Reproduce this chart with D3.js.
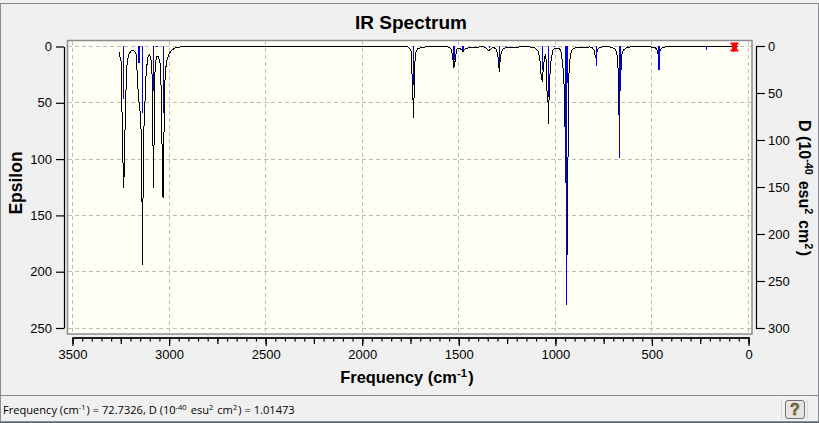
<!DOCTYPE html>
<html><head><meta charset="utf-8">
<script src="https://cdn.jsdelivr.net/npm/d3@7/dist/d3.min.js"></script>
<style>html,body{margin:0;padding:0;background:#f0f0f0;overflow:hidden}svg{display:block}text{font-family:"Liberation Sans",Arial,sans-serif;fill:#000}</style>
</head><body><svg id="c" width="819" height="423"></svg>
<script>
const curveFreq=[3259,3254,3249,3246,3242,3240,3237,3235.5,3232,3230,3224.6,3223,3220,3218,3213,3208,3197,3187,3177,3169,3166,3161,3157,3153,3150,3145,3142,3140,3138.5,3136.5,3133,3129,3124,3119,3113,3108,3100,3093,3088,3085,3082.5,3079,3078,3076,3073,3068,3063,3055,3047,3042,3039,3036,3033,3030,3027,3024,3021,3016,3011,3001,2985,2970,2944,2892,2400,1900,1763,1753,1747,1745,1742,1741,1737,1735.5,1733,1730,1728,1726,1722,1714,1701,1675,1623,1556,1545,1538,1533,1527,1525,1522,1517,1512,1504,1494,1483,1478,1473,1463,1442,1390,1369,1359,1349,1344,1338,1328,1318,1307,1302,1297,1293,1290,1288,1284,1279,1271,1261,1245,1183,1131,1105,1095,1087,1080,1074,1072,1068,1064,1059,1054,1051,1048,1044,1042,1038,1037,1034,1030,1028,1023,1017,1012,1002,985,972,966,959,955,952,947.5,943,941,940,938,937,935,932,928,923,915,898,857,821,810,800,795,791,788,784,779,769,753,717,691,683,679,674,672.6,670.5,667,665,662,659,655,647,634,614,510,484,476,471,467,463,461,456,448,432,406,54];
const curveEps=[4.9,9.3,12,25,81,96,111,125.6,111,81,62.6,38.6,25,16.4,10.2,6.7,4,3.6,4.4,7.5,21,37,47.5,52,58,74,130,139,194,139,130,58,47.5,25,13.8,8.4,7.5,12,25,85,89,125.6,89,47.5,23.5,12,8.4,9.3,14.7,30,83,87.5,132,134.5,87.5,47.5,30,18,12,6.7,3.1,1.3,0.4,0.2,0.2,0.2,0.4,1.8,4,12,25,43,47.5,63,47.5,43,21,10,5,2.2,1.2,0.4,0.3,0.4,1.3,3.1,7.5,16.4,18.8,16.4,10.2,3.1,1.3,1.8,3.1,4.9,3.1,1.8,0.9,0.4,0.4,1.3,3.1,4,2.7,1.3,0.9,2.2,4.9,9.3,16.4,22.4,16.4,9.3,4.9,2.2,1.3,0.9,0.4,0.4,1.3,3.1,4.9,12,25,26,31.3,22.6,13.8,8.4,7.5,12,34,47.5,49.3,68.2,49.3,43,25,13.8,7.5,3.1,1.6,1.3,3.1,10.2,20.9,34,39.5,111,121,179,187,179,121,111,39.5,16.4,9.3,3.1,1.3,0.9,0.4,0.9,3.1,7.5,10.2,9.3,4.9,2.2,0.9,0.2,0.4,2.2,4.9,9.3,23.5,49.3,60.8,49.3,38.6,36.9,12,6.7,3.1,1.3,0.4,0.3,0.9,2.2,4.9,7.5,7.5,5.8,3.1,1.3,0.4,0.1,0.1];
const stickFreq=[3237,3156,3139,3082,3063,3028,1735.5,1525,1478,1340,1290,1252,1068,1037,1005,945,943,937,788,668,662,628,463,218,79];
const stickD=[56,18,71,48,1,71,41.5,15,4,2,18,2,25,54,1,146,275.5,39,21,119,47,1,26,4,6];
const markerFreq=72.7326, markerD=1.01473;
const freqTicks=[3500,3000,2500,2000,1500,1000,500,0];
const epsTicks=[0,50,100,150,200,250];
const dTicks=[0,50,100,150,200,250,300];

const svg=d3.select("#c");
const x=d3.scaleLinear().domain([3500,0]).range([72.5,748.5]);
const yE=d3.scaleLinear().domain([0,250]).range([46.5,328]);
const yD=d3.scaleLinear().domain([0,300]).range([46,328]);

// window chrome
svg.append("rect").attr("x",0.5).attr("y",3.5).attr("width",818).attr("height",418).attr("fill","#f0f0f0").attr("stroke","#8a8c90");
svg.append("line").attr("x1",0).attr("x2",819).attr("y1",395.5).attr("y2",395.5).attr("stroke","#8a8c90");
svg.append("line").attr("x1",0).attr("x2",819).attr("y1",422.5).attr("y2",422.5).attr("stroke","#5c6470");

// plot area
svg.append("rect").attr("x",67.5).attr("y",40.5).attr("width",684.5).attr("height",293.5)
  .attr("fill","#fffff6").attr("stroke","#8a8c90").attr("stroke-width",1.5);
const grid=svg.append("g").attr("stroke","#bdbdb8").attr("stroke-dasharray","4,3").attr("shape-rendering","crispEdges");
grid.selectAll(".v").data(freqTicks).join("line").attr("x1",d=>x(d)).attr("x2",d=>x(d)).attr("y1",41).attr("y2",333);
grid.selectAll(".h").data(epsTicks).join("line").attr("y1",d=>yE(d)).attr("y2",d=>yE(d)).attr("x1",68).attr("x2",751);

// spectrum
const pts=curveFreq.map((f,i)=>[f,curveEps[i]]);
svg.append("path").attr("d",d3.line().x(d=>x(d[0])).y(d=>yE(d[1]))(pts))
  .attr("fill","none").attr("stroke","#000").attr("stroke-width",1).attr("stroke-linejoin","round").attr("shape-rendering","crispEdges");
svg.append("g").attr("shape-rendering","crispEdges").selectAll("line").data(stickFreq).join("line")
  .attr("x1",d=>x(d)).attr("x2",d=>x(d)).attr("y1",yD(0)).attr("y2",(d,i)=>yD(stickD[i]))
  .attr("stroke","#0000ee").attr("stroke-width",1.4);

// marker
svg.append("path").attr("transform",`translate(${x(markerFreq)},${yD(markerD)})`)
  .attr("d","M-4,-4.5H4V-2.5H2.5V2.5H4V4.5H-4V2.5H-2.5V-2.5H-4Z").attr("fill","#ff0000");

// axes
const axisStyle=g=>{g.selectAll("path,line").attr("stroke","#000").attr("stroke-width",1.2);g.selectAll("text").attr("font-size",13).attr("fill","#000").attr("font-family","Liberation Sans");};
const minor=d3.range(0,3501,50);
svg.append("g").attr("transform","translate(0,337.5)")
  .call(d3.axisBottom(x).tickValues(minor).tickSize(4).tickSizeOuter(0).tickFormat(""))
  .call(axisStyle);
svg.append("g").attr("transform","translate(0,337.5)")
  .call(d3.axisBottom(x).tickValues(d3.range(0,3501,250)).tickSize(6.5).tickSizeOuter(0).tickFormat(""))
  .call(axisStyle);
svg.append("g").attr("transform","translate(0,337.5)")
  .call(d3.axisBottom(x).tickValues(freqTicks).tickSize(8.5).tickPadding(4).tickSizeOuter(0).tickFormat(d3.format("d")))
  .call(axisStyle);
svg.append("g").attr("transform","translate(64,0)")
  .call(d3.axisLeft(yE).tickValues(epsTicks).tickSize(8).tickPadding(4).tickSizeOuter(0).tickFormat(d3.format("d")))
  .call(axisStyle);
svg.append("g").attr("transform","translate(756,0)")
  .call(d3.axisRight(yD).tickValues(dTicks).tickSize(9).tickPadding(3).tickSizeOuter(0).tickFormat(d3.format("d")))
  .call(axisStyle);

// titles
svg.append("text").attr("x",411).attr("y",29).attr("text-anchor","middle").attr("font-size",19).attr("font-weight","bold").text("IR Spectrum");
svg.append("text").attr("transform","translate(22,183) rotate(-90)").attr("text-anchor","middle").attr("font-size",17.5).attr("font-weight","bold").text("Epsilon");
const sup=(t,parts,fs)=>{parts.forEach(p=>{if(p[1]){t.append("tspan").attr("dy",-fs*0.38).attr("font-size",fs*0.68).text(p[0]);t.append("tspan").attr("dy",fs*0.38).attr("font-size",fs).text("\u200a");}else t.append("tspan").attr("font-size",fs).text(p[0]);});};
const xl=svg.append("text").attr("x",407).attr("y",383).attr("text-anchor","middle").attr("font-weight","bold");
sup(xl,[["Frequency (cm"],["-1",1],[")"]],16.4);
const rl=svg.append("text").attr("transform","translate(799,188) rotate(90)").attr("text-anchor","middle").attr("font-weight","bold");
sup(rl,[["D (10"],["-40",1],[" esu"],["2",1],[" cm"],["2",1],[")"]],16);

// status bar
const st=svg.append("text").attr("x",3).attr("y",414).style("font-family","'Open Sans'");
sup(st,[["Frequency (cm"],["-1",1],[") = 72.7326, D (10"],["-40",1],[" esu"],["2",1],[" cm"],["2",1],[") = 1.01473"]],11.1);
svg.append("line").attr("x1",781.5).attr("x2",781.5).attr("y1",399).attr("y2",419).attr("stroke","#d8d8d8");
svg.append("line").attr("x1",807.5).attr("x2",807.5).attr("y1",399).attr("y2",419).attr("stroke","#d8d8d8");
svg.append("rect").attr("x",785.5).attr("y",400.5).attr("width",19).attr("height",18).attr("rx",2.5).attr("fill","#e4e4e4").attr("stroke","#707070");
svg.append("text").attr("x",795).attr("y",415).attr("text-anchor","middle").attr("font-size",16).attr("font-weight","bold").style("fill","#8a7a30").attr("stroke","#3f3a18").attr("stroke-width",0.5).text("?");
</script></body></html>
